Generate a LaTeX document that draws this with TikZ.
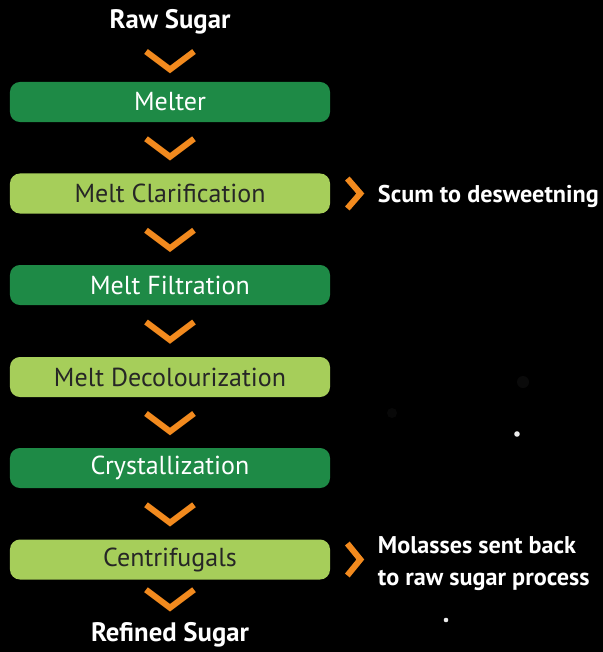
\documentclass[tikz,border=0pt]{standalone}
\usepackage{fontspec}
\setmainfont{PT Sans}
\usetikzlibrary{calc}
\definecolor{stagedark}{HTML}{1E8A46}
\definecolor{stagelight}{HTML}{A6CE5A}
\definecolor{chevorange}{HTML}{F28A1E}
\definecolor{stagetext}{HTML}{262626}

\tikzset{
  stage/.style={rounded corners=0.25cm, minimum width=8cm, minimum height=1cm, inner sep=0pt, font=\fontsize{18.5}{20}\selectfont},
  stagedk/.style={stage, fill=stagedark, text=white},
  stagelt/.style={stage, fill=stagelight, text=stagetext},
  endlabel/.style={text=white, font=\fontsize{19}{21}\selectfont\bfseries},
  sidelabel/.style={text=white, anchor=west, align=left, font=\fontsize{17.2}{22.8}\selectfont\bfseries},
  chev/.style={draw=chevorange, line width=4.3pt, miter limit=10}
}

\begin{document}
\begin{tikzpicture}[x=0.025cm, y=-0.025cm]
  \fill[black] (0,0) rectangle (603,652);
  \useasboundingbox (0,0) rectangle (603,652);
  % faint lights in the background
  \fill[white, opacity=0.04] (523,382) circle (6);
  \fill[white, opacity=0.03] (392,413) circle (5);
  \fill[white!85!gray] (517,434) circle (2.8);
  \fill[white!85!gray] (446,620) circle (2.3);

  \node[endlabel] (rawsugar) at (170,22) {Raw Sugar};
  \node[stagedk] (melter) at (170,102) {Melter};
  \node[stagelt] (clarify) at (170,193.5) {Melt Clarification};
  \node[stagedk] (filtrate) at (170,285) {Melt Filtration};
  \node[stagelt] (decolour) at (170,377) {Melt Decolourization};
  \node[stagedk] (crystal) at (170,468) {Crystallization};
  \node[stagelt] (centri) at (170,559.5) {Centrifugals};
  \node[endlabel] (refined) at (170,635) {Refined Sugar};

  % downward chevrons between the steps
  \foreach \from/\to in {rawsugar/melter, melter/clarify, clarify/filtrate, filtrate/decolour, decolour/crystal, crystal/centri, centri/refined}
    \draw[chev] ($(\from.south)!0.5!(\to.north)+(-24,-9)$) -- ($(\from.south)!0.5!(\to.north)+(0,9)$) -- ($(\from.south)!0.5!(\to.north)+(24,-9)$);

  % side outputs
  \node[sidelabel] (scum) at (373,196) {Scum to desweetning};
  \node[sidelabel] (molasses) at (373,564) {Molasses sent back\\to raw sugar process};
  \draw[chev] ($(clarify.east)+(17,-15)$) -- ($(clarify.east)+(30,0)$) -- ($(clarify.east)+(17,15)$);
  \draw[chev] ($(centri.east)+(17,-16)$) -- ($(centri.east)+(30,0)$) -- ($(centri.east)+(17,16)$);
\end{tikzpicture}
\end{document}
